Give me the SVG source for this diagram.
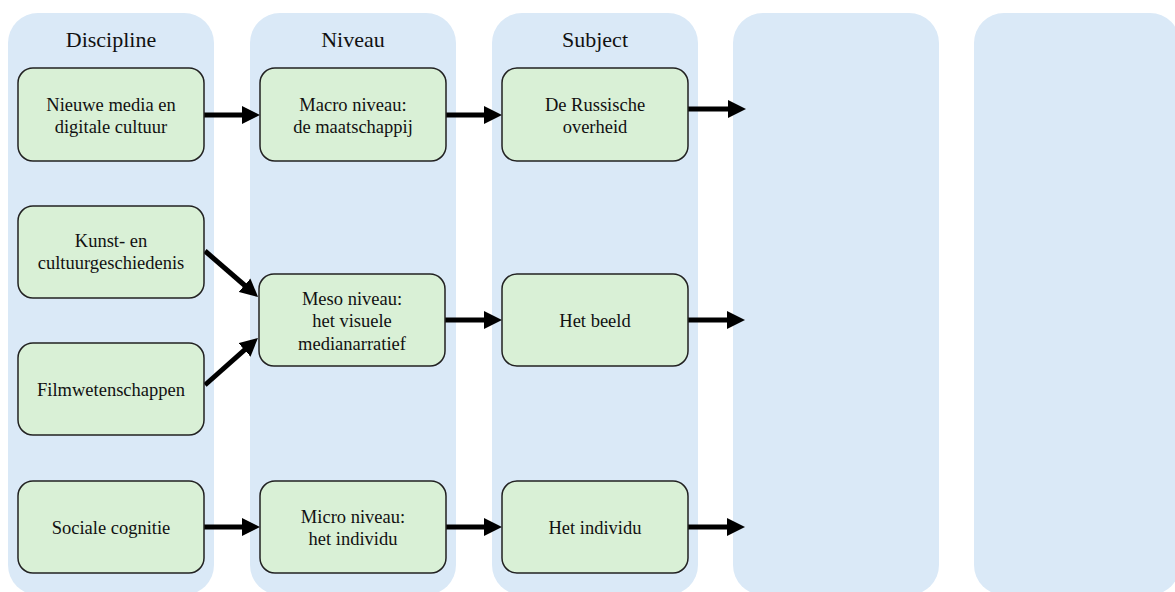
<svg xmlns="http://www.w3.org/2000/svg" width="1175" height="592" viewBox="0 0 1175 592">
<defs>
<style>
.col{fill:#dae9f7;}
.node rect{fill:#d9f0d6;stroke:#222;stroke-width:1.5;}
text{font-family:"Liberation Serif","Times New Roman",serif;fill:#111;text-anchor:middle;}
.title{font-size:22px;}
.lbl{font-size:18.5px;}
.conn line{stroke:#000;stroke-width:5;marker-end:url(#ah);}
</style>
<marker id="ah" markerUnits="userSpaceOnUse" markerWidth="18" markerHeight="18" viewBox="0 0 18 18" refX="2" refY="9" orient="auto">
<path d="M0,0 L18,9 L0,18 z" fill="#000"/>
</marker>
</defs>
<rect width="1175" height="592" fill="#fff"/>
<g id="columns">
<g id="col-discipline"><rect class="col" x="8" y="13" width="206" height="582" rx="30"/><text class="title" x="111" y="47">Discipline</text></g>
<g id="col-niveau"><rect class="col" x="250" y="13" width="206" height="582" rx="30"/><text class="title" x="353" y="47">Niveau</text></g>
<g id="col-subject"><rect class="col" x="492" y="13" width="206" height="582" rx="30"/><text class="title" x="595" y="47">Subject</text></g>
<g id="col-4"><rect class="col" x="733" y="13" width="206" height="582" rx="30"/></g>
<g id="col-5"><rect class="col" x="974" y="13" width="206" height="582" rx="30"/></g>
</g>
<g id="connectors" class="conn">
<line x1="204" y1="115" x2="244" y2="115"/>
<line x1="446" y1="115" x2="486" y2="115"/>
<line x1="688" y1="109" x2="730" y2="109"/>
<line x1="205" y1="251" x2="246" y2="286.5"/>
<line x1="205" y1="385" x2="246" y2="348.6"/>
<line x1="445" y1="320" x2="486" y2="320"/>
<line x1="688" y1="320" x2="729" y2="320"/>
<line x1="204" y1="527" x2="244" y2="527"/>
<line x1="446" y1="527" x2="486" y2="527"/>
<line x1="688" y1="527" x2="729" y2="527"/>
</g>
<g id="n-nieuwe" class="node"><rect x="18" y="68" width="186" height="93" rx="15"/><text class="lbl" x="111" y="111">Nieuwe media en</text><text class="lbl" x="111" y="133">digitale cultuur</text></g>
<g id="n-kunst" class="node"><rect x="18" y="206" width="186" height="92" rx="15"/><text class="lbl" x="111" y="247">Kunst- en</text><text class="lbl" x="111" y="269">cultuurgeschiedenis</text></g>
<g id="n-film" class="node"><rect x="18" y="343" width="186" height="92" rx="15"/><text class="lbl" x="111" y="396">Filmwetenschappen</text></g>
<g id="n-sociale" class="node"><rect x="18" y="481" width="186" height="92" rx="15"/><text class="lbl" x="111" y="534">Sociale cognitie</text></g>
<g id="n-macro" class="node"><rect x="260" y="68" width="186" height="93" rx="15"/><text class="lbl" x="353" y="111">Macro niveau:</text><text class="lbl" x="353" y="133">de maatschappij</text></g>
<g id="n-meso" class="node"><rect x="259" y="274" width="186" height="92" rx="15"/><text class="lbl" x="352" y="305">Meso niveau:</text><text class="lbl" x="352" y="327">het visuele</text><text class="lbl" x="352" y="350">medianarratief</text></g>
<g id="n-micro" class="node"><rect x="260" y="481" width="186" height="92" rx="15"/><text class="lbl" x="353" y="523">Micro niveau:</text><text class="lbl" x="353" y="545">het individu</text></g>
<g id="n-russische" class="node"><rect x="502" y="68" width="186" height="93" rx="15"/><text class="lbl" x="595" y="111">De Russische</text><text class="lbl" x="595" y="133">overheid</text></g>
<g id="n-beeld" class="node"><rect x="502" y="274" width="186" height="92" rx="15"/><text class="lbl" x="595" y="327">Het beeld</text></g>
<g id="n-individu" class="node"><rect x="502" y="481" width="186" height="92" rx="15"/><text class="lbl" x="595" y="534">Het individu</text></g>
</svg>
